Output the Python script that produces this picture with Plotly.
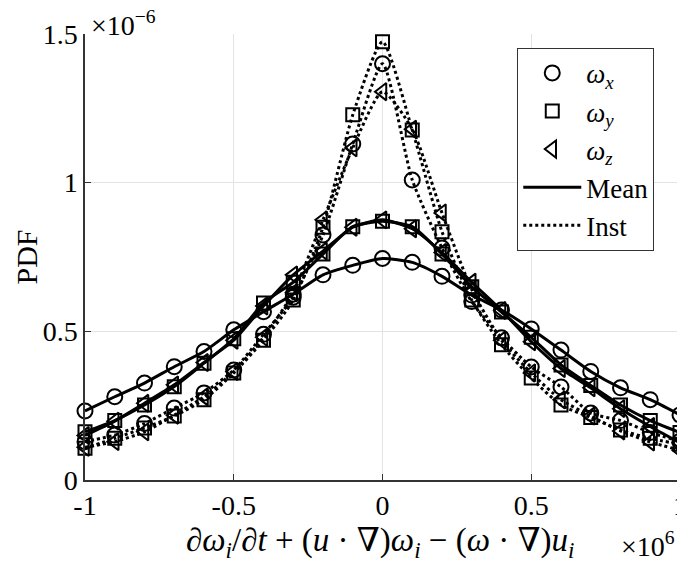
import plotly.graph_objects as go

x_vals = [-1.0, -0.9, -0.8, -0.7, -0.6, -0.5, -0.4, -0.3, -0.2, -0.1, 0.0,
          0.1, 0.2, 0.3, 0.4, 0.5, 0.6, 0.7, 0.8, 0.9, 1.0]

mean_wx = [0.232, 0.28, 0.326, 0.381, 0.432, 0.505, 0.566, 0.625, 0.69, 0.722, 0.745,
           0.732, 0.685, 0.622, 0.572, 0.508, 0.437, 0.365, 0.31, 0.27, 0.219]
mean_wy = [0.162, 0.2, 0.252, 0.314, 0.393, 0.475, 0.595, 0.665, 0.76, 0.852, 0.87,
           0.852, 0.76, 0.65, 0.565, 0.48, 0.387, 0.318, 0.252, 0.2, 0.16]
mean_wz = [0.15, 0.198, 0.258, 0.32, 0.395, 0.47, 0.585, 0.69, 0.77, 0.85, 0.875,
           0.845, 0.765, 0.665, 0.57, 0.465, 0.375, 0.31, 0.24, 0.18, 0.125]
inst_wx = [0.129, 0.151, 0.19, 0.242, 0.293, 0.37, 0.49, 0.615, 0.824, 1.13, 1.40,
           1.009, 0.78, 0.60, 0.478, 0.38, 0.313, 0.225, 0.2, 0.16, 0.13]
inst_wy = [0.107, 0.14, 0.175, 0.215, 0.27, 0.36, 0.47, 0.605, 0.85, 1.228, 1.474,
           1.177, 0.835, 0.605, 0.455, 0.343, 0.252, 0.21, 0.168, 0.14, 0.12]
inst_wz = [0.11, 0.129, 0.162, 0.218, 0.28, 0.365, 0.48, 0.63, 0.875, 1.117, 1.306,
           1.18, 0.898, 0.64, 0.47, 0.36, 0.27, 0.215, 0.165, 0.128, 0.10]

x_ticks = [-1, -0.5, 0, 0.5, 1]
x_tick_labels = ["-1", "-0.5", "0", "0.5", "1"]
y_ticks = [0, 0.5, 1, 1.5]
y_tick_labels = ["0", "0.5", "1", "1.5"]

FONT = "Liberation Serif, DejaVu Serif, serif"
symbols = {"x": "circle-open", "y": "square-open", "z": "triangle-left-open"}
sizes = {"x": 15, "y": 13, "z": 15}

fig = go.Figure()

series = [
    (mean_wx, "x", "solid"), (mean_wy, "y", "solid"), (mean_wz, "z", "solid"),
    (inst_wx, "x", "dot"), (inst_wy, "y", "dot"), (inst_wz, "z", "dot"),
]
for ys, comp, dash in series:
    fig.add_trace(go.Scatter(
        x=x_vals, y=ys, mode="lines+markers", showlegend=False,
        line=dict(color="black", width=3, dash=dash, shape="spline", smoothing=0.6),
        marker=dict(symbol=symbols[comp], size=sizes[comp], color="black",
                    line=dict(width=2, color="black")),
        cliponaxis=False,
    ))

# legend entries
for comp in ["x", "y", "z"]:
    fig.add_trace(go.Scatter(
        x=[None], y=[None], mode="markers",
        name=f"<i>ω</i><sub><i>{comp}</i></sub>",
        marker=dict(symbol=symbols[comp], size=sizes[comp], color="black",
                    line=dict(width=2, color="black")),
    ))
fig.add_trace(go.Scatter(x=[None], y=[None], mode="lines", name="Mean",
                         line=dict(color="black", width=3, dash="solid")))
fig.add_trace(go.Scatter(x=[None], y=[None], mode="lines", name="Inst",
                         line=dict(color="black", width=3, dash="dot")))

fig.update_layout(
    width=677, height=553,
    margin=dict(l=77, r=5, t=26, b=81, autoexpand=False),
    plot_bgcolor="white", paper_bgcolor="white",
    font=dict(family=FONT, size=28, color="black"),
    legend=dict(
        x=0.7265, y=0.969, xanchor="left", yanchor="top",
        bgcolor="white", bordercolor="#333", borderwidth=1,
        font=dict(family=FONT, size=27, color="black"),
        itemwidth=58, tracegroupgap=0,
    ),
    xaxis=dict(
        range=[-1, 1], tickvals=x_ticks, ticktext=x_tick_labels,
        showgrid=True, gridcolor="#e3e3e3", gridwidth=1,
        showline=True, linecolor="#333", linewidth=1.5,
        ticks="inside", ticklen=6, tickcolor="#333", zeroline=False,
        tickfont=dict(family=FONT, size=28), automargin=False,
        ticklabeloverflow="allow",
    ),
    yaxis=dict(
        range=[0, 1.5], tickvals=y_ticks, ticktext=y_tick_labels,
        showgrid=True, gridcolor="#e3e3e3", gridwidth=1,
        showline=True, linecolor="#333", linewidth=1.5,
        ticks="inside", ticklen=6, tickcolor="#333", zeroline=False,
        tickfont=dict(family=FONT, size=28), automargin=False,
        ticklabeloverflow="allow",
    ),
    annotations=[
        dict(text="PDF", x=-0.1, y=0.5, xref="paper", yref="paper", textangle=-90,
             xanchor="center", yanchor="middle", showarrow=False,
             font=dict(family=FONT, size=30)),
        dict(text="×10<sup>−6</sup>", x=0, y=1, xref="paper", yref="paper",
             xanchor="left", yanchor="middle", showarrow=False, xshift=4, yshift=11,
             font=dict(family=FONT, size=28)),
        dict(text="×10<sup>6</sup>", x=1, y=0, xref="paper", yref="paper",
             xanchor="right", yanchor="middle", showarrow=False, yshift=-64, xshift=-3,
             font=dict(family=FONT, size=28)),
        dict(text="<i>∂ω</i><sub><i>i</i></sub>/<i>∂t</i> + (<i>u</i> · ∇)<i>ω</i><sub><i>i</i></sub>"
                  " − (<i>ω</i> · ∇)<i>u</i><sub><i>i</i></sub>",
             x=0.496, y=0, xref="paper", yref="paper",
             xanchor="center", yanchor="middle", showarrow=False, yshift=-62,
             font=dict(family=FONT, size=33)),
    ],
)

fig.write_html("out.html")
